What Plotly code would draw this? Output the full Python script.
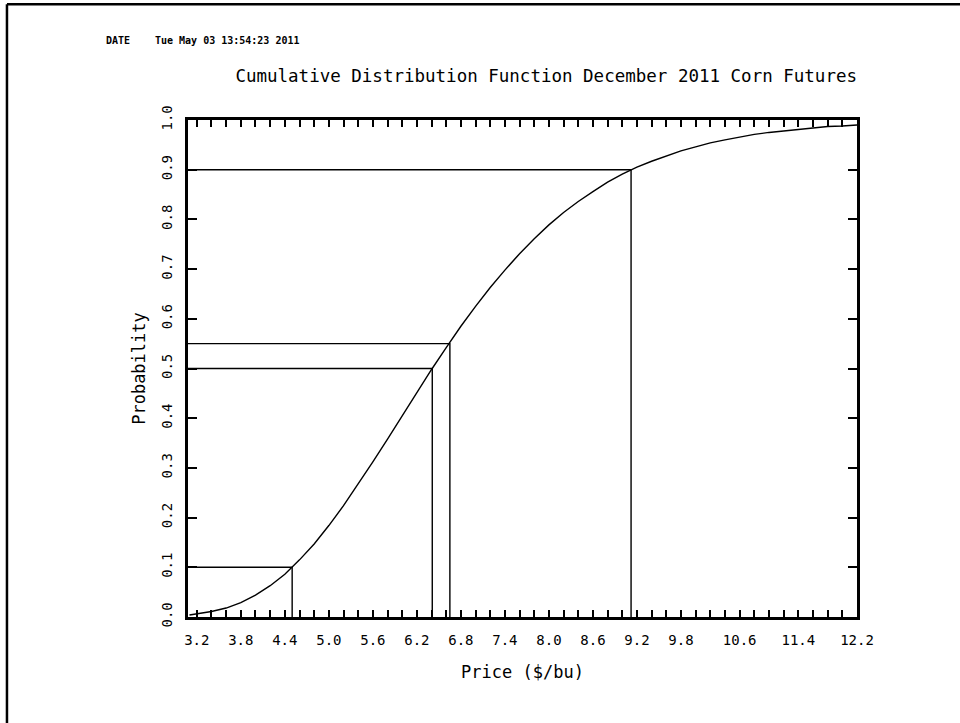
import plotly.graph_objects as go

# values
price = [3.1, 3.2, 3.4, 3.6, 3.8, 4.0, 4.2, 4.4, 4.6, 4.8, 5.0, 5.2, 5.4, 5.6,
         5.8, 6.0, 6.2, 6.4, 6.6, 6.8, 7.0, 7.2, 7.4, 7.6, 7.8, 8.0, 8.2,
         8.4, 8.6, 8.8, 9.0, 9.2, 9.4, 9.6, 9.8, 10.0, 10.2, 10.4, 10.6,
         10.8, 11.0, 11.2, 11.4, 11.6, 11.8, 12.0, 12.2]
prob = [0.004, 0.006, 0.011, 0.018, 0.029, 0.044, 0.063, 0.086, 0.115,
        0.147, 0.184, 0.224, 0.267, 0.312, 0.358, 0.405, 0.452, 0.498,
        0.542, 0.585, 0.625, 0.663, 0.698, 0.731, 0.761, 0.789, 0.814,
        0.836, 0.856, 0.875, 0.891, 0.905, 0.917, 0.928, 0.938, 0.946,
        0.954, 0.960, 0.966, 0.971, 0.975, 0.978, 0.982, 0.984, 0.987,
        0.988, 0.990]

quant_prob = [0.10, 0.50, 0.55, 0.90]
quant_price = [4.50, 6.41, 6.65, 9.12]

x_ticks = [3.2, 3.8, 4.4, 5.0, 5.6, 6.2, 6.8, 7.4, 8.0, 8.6, 9.2, 9.8, 10.6, 11.4, 12.2]
y_ticks = [0.0, 0.1, 0.2, 0.3, 0.4, 0.5, 0.6, 0.7, 0.8, 0.9, 1.0]

x_lo, x_hi = 3.08, 12.2
FONT = "DejaVu Sans Mono"

fig = go.Figure()

fig.add_trace(go.Scatter(x=price, y=prob, mode="lines",
                         line=dict(color="black", width=1.4), showlegend=False))

for q, p in zip(quant_prob, quant_price):
    fig.add_trace(go.Scatter(x=[x_lo, p, p], y=[q, q, 0], mode="lines",
                             line=dict(color="black", width=1.4), showlegend=False))

axis_common = dict(showline=True, linecolor="black", linewidth=3, mirror="ticks",
                   ticks="inside", tickcolor="black", showgrid=False, zeroline=False,
                   tickfont=dict(family=FONT, size=14, color="black"))

fig.update_xaxes(range=[x_lo, x_hi], tickvals=x_ticks,
                 ticktext=[f"{v:.1f}" for v in x_ticks], ticklen=7, tickwidth=1.5,
                 ticklabelstandoff=8,
                 minor=dict(tick0=3.2, dtick=0.2, ticks="inside", ticklen=7,
                            tickwidth=1.5, tickcolor="black"),
                 title=dict(text="Price ($/bu)", standoff=20,
                            font=dict(family=FONT, size=17, color="black")),
                 **axis_common)
fig.update_yaxes(range=[0, 1], tickvals=y_ticks,
                 ticktext=[f"{v:.1f}" for v in y_ticks], tickangle=-90,
                 ticklen=9, tickwidth=1.5, ticklabelstandoff=7,
                 title=dict(text="Probability", standoff=10,
                            font=dict(family=FONT, size=17, color="black")),
                 **axis_common)

fig.update_layout(
    width=960, height=723,
    margin=dict(l=188, r=103, t=120, b=106, autoexpand=False),
    paper_bgcolor="white", plot_bgcolor="white",
    title=dict(text="Cumulative Distribution Function December 2011 Corn Futures",
               x=857 / 960, xref="container", xanchor="right",
               y=1 - 76 / 723, yref="container", yanchor="middle",
               font=dict(family=FONT, size=17.5, color="black")),
    annotations=[
        dict(text="<b>DATE</b>", x=-0.125, y=1.16, xref="paper", yref="paper",
             xanchor="left", yanchor="middle", showarrow=False,
             font=dict(family=FONT, size=10, color="black")),
        dict(text="<b>Tue May 03 13:54:23 2011</b>", x=-0.052, y=1.16, xref="paper",
             yref="paper", xanchor="left", yanchor="middle", showarrow=False,
             font=dict(family=FONT, size=10, color="black")),
    ],
    shapes=[
        dict(type="line", xref="paper", yref="paper", x0=-0.2706, x1=-0.2706,
             y0=1.233, y1=-0.3, line=dict(color="black", width=2.5)),
        dict(type="line", xref="paper", yref="paper", x0=-0.2706, x1=1.2,
             y0=1.233, y1=1.233, line=dict(color="black", width=2.5)),
    ],
)

fig.write_html("out.html", config={"displayModeBar": False},
               post_script="document.body.style.margin='0';")
